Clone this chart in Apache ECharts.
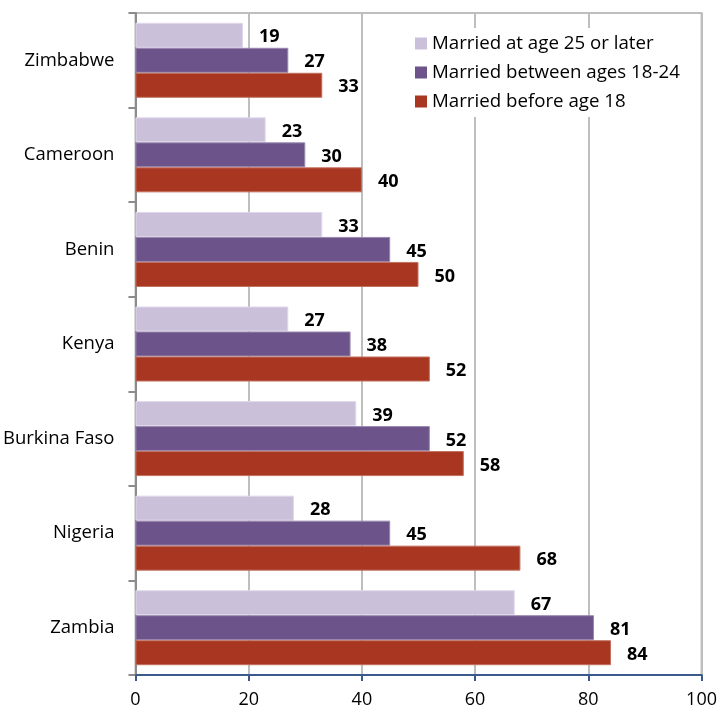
<!DOCTYPE html>
<html>
<head>
<meta charset="utf-8">
<script src="https://cdn.jsdelivr.net/npm/echarts@6/dist/echarts.min.js"></script>
<style>
  html, body { margin: 0; padding: 0; background: #ffffff; }
  #chart { width: 720px; height: 712px; }
</style>
</head>
<body>
<div id="chart"></div>
<script>
// Countries, listed bottom to top as they appear on the category axis
var countries = ['Zambia', 'Nigeria', 'Burkina Faso', 'Kenya', 'Benin', 'Cameroon', 'Zimbabwe'];

// Percentages for each marriage-age group, same order as countries
var marriedBefore18 = [84, 68, 58, 52, 50, 40, 33];
var married18to24   = [81, 45, 52, 38, 45, 30, 27];
var married25Later  = [67, 28, 39, 27, 33, 23, 19];

var seriesNames = ['Married at age 25 or later', 'Married between ages 18-24', 'Married before age 18'];
var xTicks = [0, 20, 40, 60, 80, 100];

var FONT = 'Open Sans';
var colors = {
  later: '#CBC0DA',
  mid: '#6C538A',
  early: '#A83620'
};

function barSeries(name, data, color, border) {
  return {
    name: name,
    type: 'bar',
    data: data,
    barWidth: 25,
    barGap: '0%',
    itemStyle: { color: color, borderColor: border, borderWidth: 1 },
    label: {
      show: true,
      position: 'right',
      distance: 16,
      offset: [0, 2],
      fontFamily: FONT,
      fontWeight: 'bold',
      fontSize: 18,
      color: '#000000'
    }
  };
}

var chart = echarts.init(document.getElementById('chart'), null, { renderer: 'canvas' });

chart.setOption({
  animation: false,
  backgroundColor: '#ffffff',
  grid: { left: 135, right: 17, top: 13, bottom: 37, containLabel: false,
          show: true, borderColor: '#BEBEBE', borderWidth: 2, backgroundColor: 'transparent' },
  legend: {
    data: seriesNames,
    orient: 'vertical',
    left: 401,
    top: 28,
    padding: [6, 10, 6, 14],
    itemGap: 10,
    itemWidth: 12,
    itemHeight: 12,
    icon: 'rect',
    itemStyle: { borderWidth: 0 },
    backgroundColor: '#ffffff',
    textStyle: { fontFamily: FONT, fontSize: 18.7, color: '#000000' }
  },
  xAxis: {
    type: 'value',
    min: xTicks[0],
    max: xTicks[xTicks.length - 1],
    interval: 20,
    axisLine: { show: true, lineStyle: { color: '#3B5A8C', width: 2 } },
    axisTick: { show: true, length: 6, lineStyle: { color: '#3B5A8C', width: 2 } },
    axisLabel: { fontFamily: FONT, fontSize: 18, color: '#000000', margin: 16 },
    splitLine: { show: true, lineStyle: { color: '#BEBEBE', width: 2 } }
  },
  yAxis: {
    type: 'category',
    data: countries,
    axisLine: { show: true, lineStyle: { color: '#8C8C8C', width: 2 } },
    axisTick: { show: true, length: 7, lineStyle: { color: '#8C8C8C', width: 2 } },
    axisLabel: { fontFamily: FONT, fontSize: 18.5, color: '#000000', margin: 21 },
    splitLine: { show: false }
  },
  // Series order runs top to bottom within each country
  series: [
    barSeries(seriesNames[0], married25Later, colors.later, '#E0D8EA'),
    barSeries(seriesNames[1], married18to24, colors.mid, '#9A88B0'),
    barSeries(seriesNames[2], marriedBefore18, colors.early, '#C0705F')
  ]
});
</script>
</body>
</html>
